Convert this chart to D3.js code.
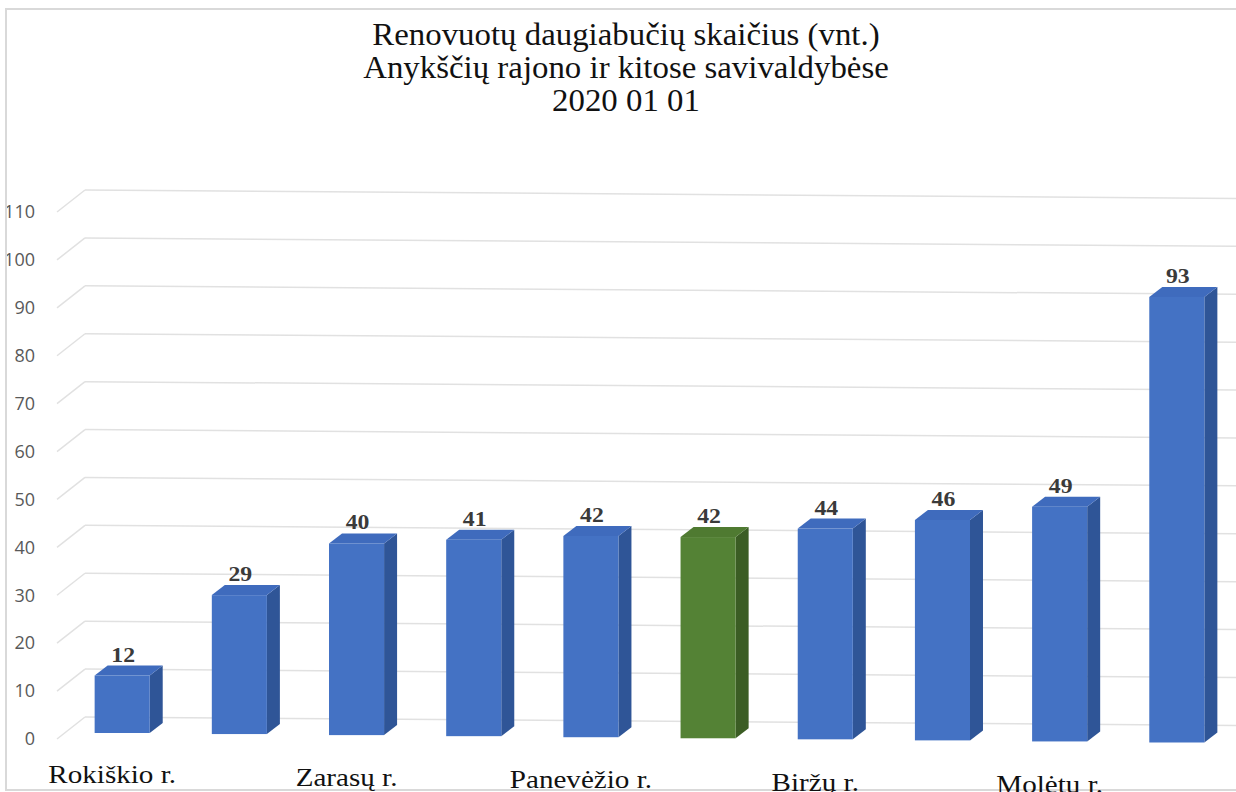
<!DOCTYPE html>
<html>
<head>
<meta charset="utf-8">
<script src="https://cdn.jsdelivr.net/npm/d3@7/dist/d3.min.js"></script>
<style>
  html, body { margin: 0; padding: 0; background: #fff; }
  svg { display: block; }
</style>
</head>
<body>
<svg id="chart" width="1236" height="792"></svg>
<script>
// ---- data ----
const categories = ["Rokiškio r.", "Kupiškio r.", "Zarasų r.", "Ignalinos r.", "Panevėžio r.",
                    "Anykščių r.", "Biržų r.", "Utenos r.", "Molėtų r.", "Visagino sav."];
const values = [12, 29, 40, 41, 42, 42, 44, 46, 49, 93];
const highlighted = ["Anykščių r."];
const shownLabels = ["Rokiškio r.", "Zarasų r.", "Panevėžio r.", "Biržų r.", "Molėtų r."];
const yTicks = [0, 10, 20, 30, 40, 50, 60, 70, 80, 90, 100, 110];
const titleLines = ["Renovuotų daugiabučių skaičius (vnt.)",
                    "Anykščių rajono ir kitose savivaldybėse",
                    "2020 01 01"];

// ---- layout ----
const svg = d3.select("#chart");
const W = 1236, H = 792;

svg.append("defs").append("clipPath").attr("id", "frameClip")
  .append("rect").attr("x", 7).attr("y", 10).attr("width", W).attr("height", H);

// frame
svg.append("rect").attr("x", 6).attr("y", 9).attr("width", W + 10).attr("height", 781)
  .attr("fill", "none").attr("stroke", "#d9d9d9").attr("stroke-width", 2);

const g = svg.append("g").attr("clip-path", "url(#frameClip)");

// scales
const x = d3.scaleBand().domain(categories).range([63, 1236]).paddingInner(0.53).paddingOuter(0.27);
const h = d3.scaleLinear().domain([0, 110]).range([0, 527]);
const slopeWall = 0.0073, slopeBar = 0.009;
const wallX0 = 85, wallY0 = 717;          // back wall, value 0
const depthW = { dx: -28, dy: 22 };       // floor edge offset
const wallY = (v, px) => wallY0 - h(v) + (px - wallX0) * slopeWall;
const barBase = px => 733 + (px - 122) * slopeBar;
const bd = { dx: 13, dy: -10 };           // bar depth

// gridlines
const grid = g.append("g");
yTicks.forEach(v => {
  grid.append("line")
    .attr("x1", wallX0).attr("y1", wallY(v, wallX0))
    .attr("x2", W + 5).attr("y2", wallY(v, W + 5))
    .attr("stroke", "#e1e1e1").attr("stroke-width", 1.5);
  grid.append("line")
    .attr("x1", wallX0 + depthW.dx).attr("y1", wallY(v, wallX0) + depthW.dy)
    .attr("x2", wallX0).attr("y2", wallY(v, wallX0))
    .attr("stroke", "#e1e1e1").attr("stroke-width", 1.5);
});

// y tick labels
g.append("g").selectAll("text").data(yTicks).join("text")
  .attr("x", 35).attr("y", v => wallY(v, wallX0) + depthW.dy)
  .attr("dy", "0.35em")
  .attr("text-anchor", "end")
  .attr("font-family", "'Open Sans', 'Noto Sans', sans-serif")
  .attr("font-size", 18)
  .attr("fill", "#595959")
  .text(d => d);

// bars
const bars = g.append("g").selectAll("g").data(categories).join("g");
bars.each(function(c, i) {
  const sel = d3.select(this);
  const v = values[i];
  const x0 = x(c), w = x.bandwidth();
  const cx = x0 + w / 2;
  const yb = barBase(cx);
  const yt = yb - h(v);
  const hl = highlighted.includes(c);
  const front = hl ? "#548235" : "#4472C4";
  const side = hl ? "#3b5d24" : "#2f5597";
  const top = hl ? "#4f7a31" : "#3f6bbd";
  sel.append("path")
    .attr("d", `M${x0 + w},${yt} L${x0 + w + bd.dx},${yt + bd.dy} L${x0 + w + bd.dx},${yb + bd.dy} L${x0 + w},${yb} Z`)
    .attr("fill", side);
  sel.append("path")
    .attr("d", `M${x0},${yt} L${x0 + bd.dx},${yt + bd.dy} L${x0 + w + bd.dx},${yt + bd.dy} L${x0 + w},${yt} Z`)
    .attr("fill", top);
  sel.append("rect").attr("x", x0).attr("y", yt).attr("width", w).attr("height", yb - yt)
    .attr("fill", front);
  sel.append("text")
    .attr("transform", `translate(${cx + 1},${yt + bd.dy - 4}) scale(1.08,1)`)
    .attr("text-anchor", "middle")
    .attr("font-family", "'Liberation Serif', 'Times New Roman', serif")
    .attr("font-weight", "bold")
    .attr("font-size", 22)
    .attr("fill", "#3a3a3a")
    .text(v);
});

// category labels
g.append("g").selectAll("text").data(categories.filter(c => shownLabels.includes(c))).join("text")
  .attr("transform", c => {
    const cx = x(c) + x.bandwidth() / 2;
    return `translate(${cx - 10},${barBase(cx) + 50 + (cx - 122) * 0.002}) scale(1.12,1)`;
  })
  .attr("text-anchor", "middle")
  .attr("font-family", "'Liberation Serif', 'Times New Roman', serif")
  .attr("font-size", 26)
  .attr("fill", "#111")
  .text(d => d);

// title
svg.append("g").selectAll("text").data(titleLines).join("text")
  .attr("transform", (d, i) => `translate(626,${45 + i * 33}) scale(1.06,1)`)
  .attr("text-anchor", "middle")
  .attr("font-family", "'Liberation Serif', 'Times New Roman', serif")
  .attr("font-size", 31)
  .attr("fill", "#111")
  .text(d => d);
</script>
</body>
</html>
